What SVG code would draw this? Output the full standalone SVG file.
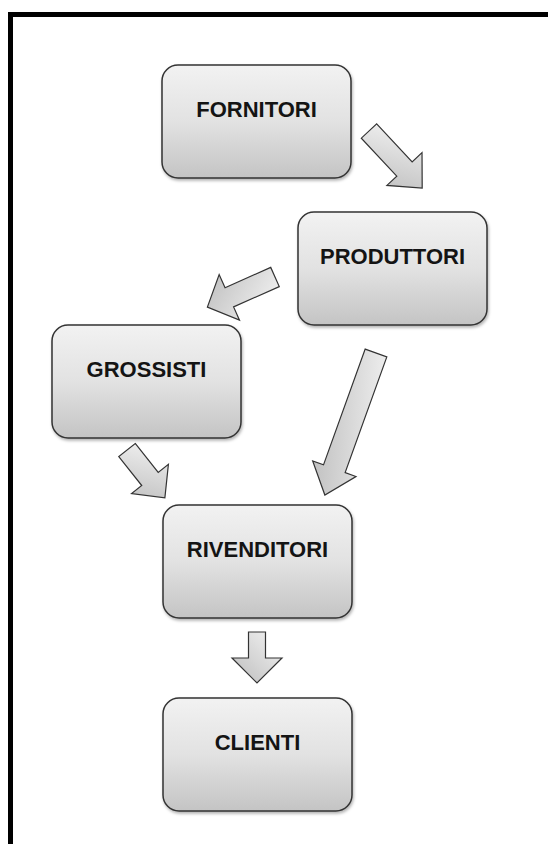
<svg xmlns="http://www.w3.org/2000/svg" width="548" height="844" viewBox="0 0 548 844">
  <defs>
    <linearGradient id="boxGrad" x1="0" y1="0" x2="0" y2="1">
      <stop offset="0" stop-color="#f2f2f2"/>
      <stop offset="0.5" stop-color="#e2e2e2"/>
      <stop offset="1" stop-color="#c4c4c4"/>
    </linearGradient>
    <linearGradient id="arrowGrad" x1="0" y1="0" x2="1" y2="1">
      <stop offset="0" stop-color="#f4f4f4"/>
      <stop offset="1" stop-color="#bcbcbc"/>
    </linearGradient>
    <filter id="shadow" x="-10%" y="-10%" width="125%" height="125%">
      <feDropShadow dx="1" dy="2" stdDeviation="1.5" flood-color="#000" flood-opacity="0.3"/>
    </filter>
  </defs>
  <style>
    .box { fill: url(#boxGrad); stroke: #333; stroke-width: 1.5; filter: url(#shadow); }
    .lbl { font-family: "Liberation Sans", Arial, sans-serif; font-weight: bold; font-size: 22px; fill: #141414; text-anchor: middle; }
    .arr { fill: url(#arrowGrad); stroke: #333; stroke-width: 1.2; stroke-linejoin: miter; }
  </style>
  <rect width="548" height="844" fill="#fff"/>
  <path d="M10.5 844 V14.5 H548" fill="none" stroke="#000" stroke-width="5"/>

  <g id="fornitori">
    <rect class="box" x="162" y="65" width="189" height="113" rx="16"/>
    <text class="lbl" x="256.5" y="117">FORNITORI</text>
  </g>
  <g id="produttori">
    <rect class="box" x="298" y="212" width="189" height="113" rx="16"/>
    <text class="lbl" x="392.5" y="264">PRODUTTORI</text>
  </g>
  <g id="grossisti">
    <rect class="box" x="52" y="325" width="189" height="113" rx="16"/>
    <text class="lbl" x="146.5" y="377">GROSSISTI</text>
  </g>
  <g id="rivenditori">
    <rect class="box" x="163" y="505" width="189" height="113" rx="16"/>
    <text class="lbl" x="257.5" y="557">RIVENDITORI</text>
  </g>
  <g id="clienti">
    <rect class="box" x="163" y="698" width="189" height="113" rx="16"/>
    <text class="lbl" x="257.5" y="750">CLIENTI</text>
  </g>

  <g id="connectors">
    <polygon class="arr" transform="translate(369 131) rotate(47)" points="0,-10.5 52,-10.5 52,-24 78,0 52,24 52,10.5 0,10.5"/>
    <polygon class="arr" transform="translate(275 277) rotate(156)" points="0,-10.5 50,-10.5 50,-25 74,0 50,25 50,10.5 0,10.5"/>
    <polygon class="arr" transform="translate(127 450) rotate(51.6)" points="0,-10.5 37,-10.5 37,-23.5 61,0 37,23.5 37,10.5 0,10.5"/>
    <polygon class="arr" transform="translate(376 353) rotate(109.8)" points="0,-11.5 123,-11.5 123,-23 151,0 123,23 123,11.5 0,11.5"/>
    <polygon class="arr" transform="translate(257 632) rotate(90)" points="0,-8.5 26,-8.5 26,-25 51,0 26,25 26,8.5 0,8.5"/>
  </g>
</svg>
